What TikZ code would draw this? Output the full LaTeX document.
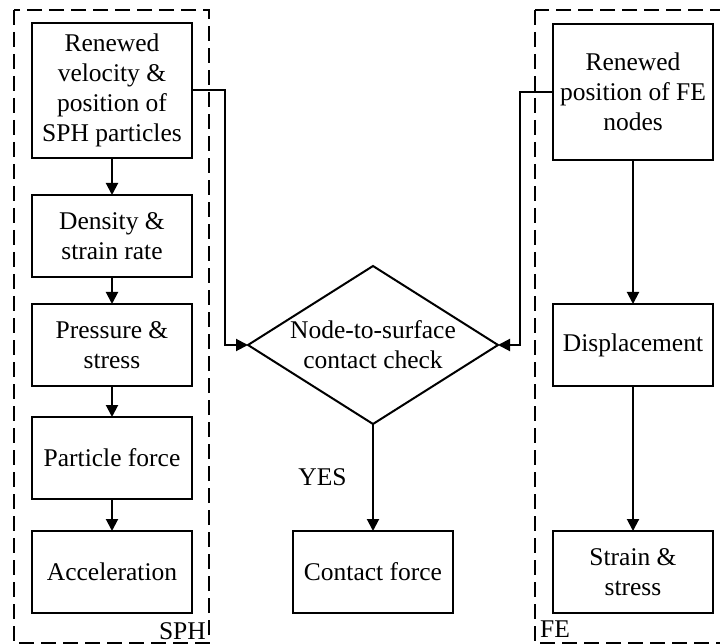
\documentclass[tikz,border=0pt]{standalone}
\usepackage{fontspec}
\setmainfont{Liberation Serif}
\usepackage{tikz}
\usetikzlibrary{arrows.meta, positioning, shapes.geometric}

\begin{document}
\begin{tikzpicture}[
  x=1pt, y=1pt,
  every node/.style={font=\fontsize{25.5}{30}\selectfont},
  box/.style={rectangle, draw, line width=2pt, minimum width=160pt, minimum height=82pt, align=center, inner sep=2pt, outer sep=0pt},
  check/.style={diamond, draw, line width=2pt, aspect=1.58, minimum width=250pt, minimum height=158pt, inner sep=0pt, outer sep=0pt, align=center},
  frame/.style={draw, line width=2pt, dash pattern=on 15pt off 7pt},
  arr/.style={draw, line width=2pt, -{Triangle[length=12pt, width=12pt]}},
]
  \useasboundingbox (0,0) rectangle (720,-644);

  % SPH column
  \node[box, minimum height=135pt] (sph1) at (112,-90.5) {Renewed\\velocity \&\\position of\\SPH particles};
  \node[box, below=37pt of sph1] (sph2) {Density \&\\strain rate};
  \node[box, below=27pt of sph2] (sph3) {Pressure \&\\stress};
  \node[box, below=31pt of sph3] (sph4) {Particle force};
  \node[box, below=32pt of sph4] (sph5) {Acceleration};

  % contact
  \node[check, right=56pt of sph3] (chk) {Node-to-surface\\contact check};
  \node[box, below=107pt of chk] (force) {Contact force};

  % FE column
  \node[box, right=55pt of chk] (fe2) {Displacement};
  \node[box, minimum height=136pt, above=144pt of fe2] (fe1) {Renewed\\position of FE\\nodes};
  \node[box, below=145pt of fe2] (fe3) {Strain \&\\stress};

  % frames
  \draw[frame] (14,-10) rectangle (209,-643);
  \draw[frame] (535,-10) rectangle (745,-643);
  \coordinate (sphcorner) at (209,-643);
  \coordinate (fecorner) at (535,-643);
  \node[anchor=south east, inner sep=3pt] (sphlabel) at (sphcorner) {SPH};
  \node[anchor=south west, inner sep=5pt] (felabel) at (fecorner) {FE};

  % arrows
  \draw[arr] (sph1) -- (sph2);
  \draw[arr] (sph2) -- (sph3);
  \draw[arr] (sph3) -- (sph4);
  \draw[arr] (sph4) -- (sph5);
  \draw[arr] (fe1) -- (fe2);
  \draw[arr] (fe2) -- (fe3);
  \draw[arr] (sph1.east) -- ++(33pt,0) |- (chk.west);
  \draw[arr] (fe1.west) -- ++(-33pt,0) |- (chk.east);
  \draw[arr] (chk) -- node[left=22pt] (yes) {YES} (force);
\end{tikzpicture}
\end{document}
